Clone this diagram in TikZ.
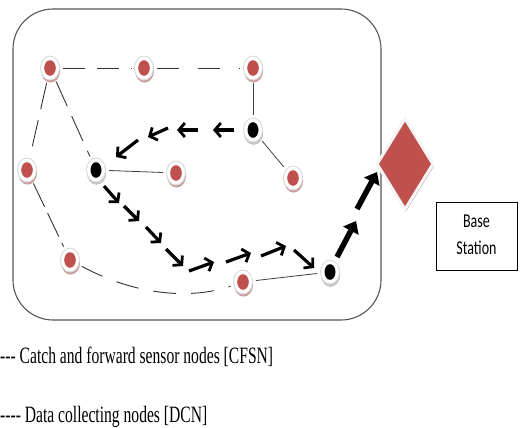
\documentclass[tikz,border=0pt]{standalone}
\usepackage{fontspec}
\setmainfont{Liberation Serif}
\newfontfamily\calib{Carlito}
\usetikzlibrary{shapes.geometric,shadows,arrows.meta}
\definecolor{nred}{HTML}{C0504D}
\definecolor{shred}{HTML}{C9A09F}
\definecolor{frame}{HTML}{555555}
\tikzset{
  sn/.style={ellipse, minimum width=19pt, minimum height=24pt, inner sep=0pt,
    draw=gray!30, line width=0.9pt, fill=white,
    drop shadow={shadow xshift=0.6pt, shadow yshift=-2.6pt, fill=shred, opacity=1}},
  cfsn/.style={sn, path picture={\fill[nred] (path picture bounding box.center) ellipse [x radius=5.8pt, y radius=7.8pt];}},
  dcn/.style={sn, drop shadow={shadow xshift=0.6pt, shadow yshift=-2.6pt, fill=gray!45, opacity=1},
    path picture={\fill[black] (path picture bounding box.center) ellipse [x radius=5.5pt, y radius=7.8pt];}},
  dlink/.style={draw=black!80, line width=0.9pt, dash pattern=on 22pt off 12pt, shorten <=3pt, shorten >=3pt},
  slink/.style={draw=black!75, line width=0.8pt, shorten <=3pt, shorten >=3pt},
  arr/.style={line width=3.2pt, -{Straight Barb[length=6pt,width=14pt,line width=2.8pt]}},
  bigarr/.style={line width=5.5pt, -{Triangle[length=11pt,width=17pt]}},
}
\begin{document}
\begin{tikzpicture}[x=1pt,y=-1pt]
\useasboundingbox (0,0) rectangle (520,428);
\draw[frame, line width=1.1pt, rounded corners=40pt] (13,9) rectangle (381,320);

% CFSN nodes
\node[cfsn] (A) at (50,68) {};
\node[cfsn] (B) at (144,68) {};
\node[cfsn] (C) at (253,68) {};
\node[cfsn] (D) at (27,170) {};
\node[cfsn] (E) at (176,173) {};
\node[cfsn] (F) at (293,178) {};
\node[cfsn] (G) at (70,260) {};
\node[cfsn] (H) at (243,282) {};
% DCN nodes
\node[dcn] (K1) at (253,130) {};
\node[dcn] (K2) at (96,170) {};
\node[dcn] (K3) at (330,272) {};

% base station
\node[diamond, minimum width=57pt, minimum height=92pt, inner sep=0pt, fill=nred,
  draw=white!92!gray, line width=3pt,
  drop shadow={shadow xshift=0.8pt, shadow yshift=-2.5pt, fill=shred, opacity=1}] (BS) at (405,164) {};
\node[draw=black, line width=0.8pt, minimum width=81pt, minimum height=68pt, inner sep=0pt,
  font=\calib\fontsize{14}{17}\selectfont] (lbl) at (476.5,236)
  {\scalebox{1}[1.4]{\begin{tabular}{@{}c@{}}Base\\[2.5pt]Station\end{tabular}}};

% dashed links
\draw[dlink] (A) -- (B);
\draw[dlink, dash pattern=on 22pt off 19pt] (B) -- (C);
\draw[dlink, dash pattern=on 27pt off 11pt] (A) -- (D);
\draw[dlink, dash pattern=on 27pt off 11pt] (A) -- (K2);
\draw[dlink, dash pattern=on 26pt off 7pt] (D) -- (G);
\draw[dlink, dash pattern=on 23pt off 15pt] (G) .. controls (135,295) and (190,300) .. (H);
% solid links
\draw[slink] (C) -- (K1);
\draw[slink] (K1) -- (F);
\draw[slink] (K2) -- (E);
\draw[slink] (H) -- (K3);

% arrows K1 -> K2
\draw[arr] (234,130) -- (213,130);
\draw[arr] (198,130) -- (177,130);
\draw[arr] (168,128) -- (148,137);
\draw[arr] (138,140) -- (116,157);
% arrows K2 -> K3
\draw[arr] (104,186) -- (119,203);
\draw[arr] (124,206) -- (139,221);
\draw[arr] (146,227) -- (161,243);
\draw[arr] (166,249) -- (183,266);
\draw[arr] (189,271) -- (214,262);
\draw[arr] (226,262) -- (251,253);
\draw[arr] (261,256) -- (286,246);
\draw[arr] (294,250) -- (314,268);
% arrows K3 -> base station
\draw[bigarr] (337,257) -- (356,221);
\draw[bigarr] (357,209) -- (377,172);

% legend
\node[anchor=base west, inner sep=0pt, font=\fontsize{15.6}{18}\selectfont] (l1) at (0,363)
  {\scalebox{1}[1.5]{-{}-{}- Catch and forward sensor nodes [CFSN]}};
\node[anchor=base west, inner sep=0pt, font=\fontsize{15.6}{18}\selectfont] (l2) at (0,422)
  {\scalebox{1}[1.5]{-{}-{}-{}- Data collecting nodes [DCN]}};
\end{tikzpicture}
\end{document}
